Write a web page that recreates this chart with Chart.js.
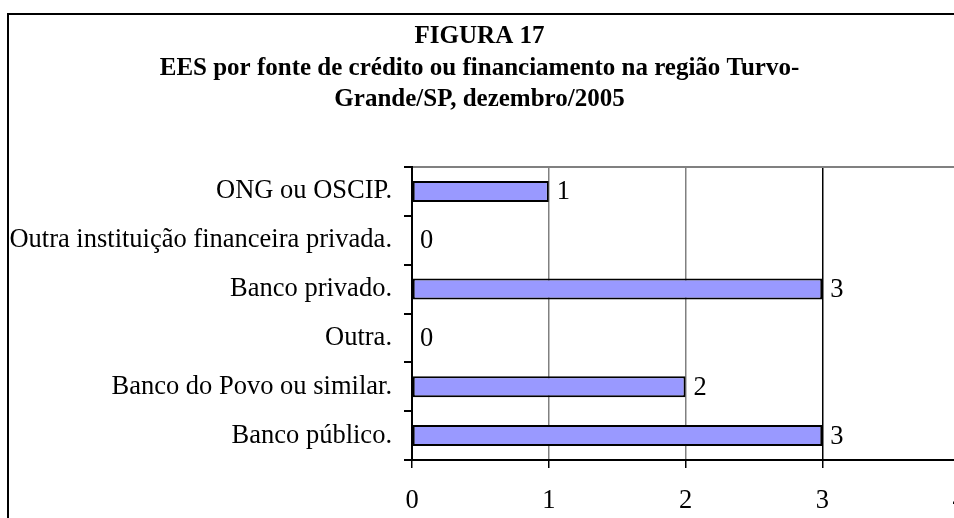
<!DOCTYPE html>
<html>
<head>
<meta charset="utf-8">
<script src="https://cdn.jsdelivr.net/npm/chart.js@4/dist/chart.umd.min.js"></script>
<style>
    body { margin: 0; background: #fff; }
    .quadro { position: relative; width: 954px; height: 518px; overflow: hidden; }
    .quadro canvas { position: absolute; left: 0; top: 0; }
    .moldura { position: absolute; left: 7px; top: 13px; width: 1200px; height: 800px;
        border-left: 2px solid #000; border-top: 2px solid #000; pointer-events: none; }
</style>
</head>
<body>
<div class="quadro">
    <canvas id="grafico" width="985" height="518"></canvas>
    <div class="moldura"></div>
</div>
<script>
// dados da figura
const titulo = ['FIGURA 17', 'EES por fonte de crédito ou financiamento na região Turvo-', 'Grande/SP, dezembro/2005'];
const categorias = ['ONG ou OSCIP.', 'Outra instituição financeira privada.', 'Banco privado.', 'Outra.', 'Banco do Povo ou similar.', 'Banco público.'];
const valores = [1, 0, 3, 0, 2, 3];
const ticksX = [0, 1, 2, 3, 4];

const fonte = 'Liberation Serif, Times New Roman, serif';

// rótulos com os valores ao lado das barras
const rotulosValores = {
    id: 'rotulosValores',
    afterDatasetsDraw(chart) {
        const ctx = chart.ctx;
        const meta = chart.getDatasetMeta(0);
        ctx.save();
        ctx.font = '26.5px ' + fonte;
        ctx.fillStyle = '#000';
        ctx.textAlign = 'left';
        ctx.textBaseline = 'middle';
        meta.data.forEach(function (barra, i) {
            ctx.fillText(String(valores[i]), barra.x + 8, barra.y + 1);
        });
        ctx.restore();
    }
};

document.addEventListener('DOMContentLoaded', function () {
    const ctx = document.getElementById('grafico').getContext('2d');

    new Chart(ctx, {
        type: 'bar',
        data: {
            labels: categorias,
            datasets: [{
                data: valores,
                backgroundColor: '#9999ff',
                borderColor: '#000',
                borderWidth: 2,
                borderSkipped: false,
                barPercentage: 0.43,
                categoryPercentage: 1
            }]
        },
        options: {
            indexAxis: 'y',
            responsive: false,
            animation: false,
            layout: { padding: { left: 0, right: 26, top: 0, bottom: 0 } },
            scales: {
                x: {
                    min: ticksX[0],
                    max: ticksX[ticksX.length - 1],
                    afterBuildTicks: function (scale) {
                        scale.ticks = ticksX.map(v => ({ value: v }));
                    },
                    afterFit: function (scale) { scale.height = 58; },
                    border: { color: '#000', width: 2 },
                    grid: {
                        color: function (c) { return c.tick && c.tick.value === 3 ? '#000' : '#808080'; },
                        lineWidth: 1.5,
                        tickLength: 8,
                        tickColor: '#000'
                    },
                    ticks: {
                        color: '#000',
                        padding: 17,
                        font: { family: fonte, size: 26.5 }
                    }
                },
                y: {
                    afterFit: function (scale) { scale.width = 412; },
                    border: { color: '#000', width: 2 },
                    grid: {
                        offset: true,
                        color: function (c) { return c.index === 0 ? '#808080' : 'rgba(0,0,0,0)'; },
                        lineWidth: 2,
                        tickLength: 8,
                        tickColor: '#000'
                    },
                    ticks: {
                        color: '#000',
                        padding: 12,
                        font: { family: fonte, size: 26.5 }
                    }
                }
            },
            plugins: {
                legend: { display: false },
                tooltip: { enabled: false },
                title: {
                    display: true,
                    text: titulo,
                    color: '#000',
                    font: { family: fonte, size: 25, weight: 'bold', lineHeight: 1.26 },
                    padding: { top: 21, bottom: 51.5 }
                }
            }
        },
        plugins: [rotulosValores]
    });
});
</script>
</body>
</html>
